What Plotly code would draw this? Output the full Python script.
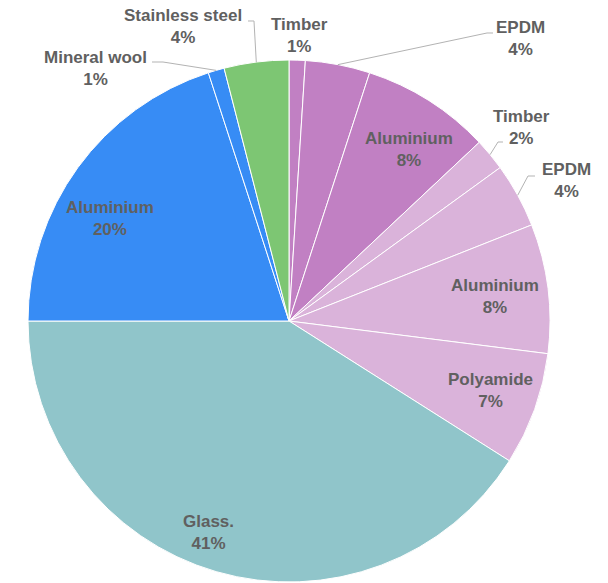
import math
import plotly.graph_objects as go

# Material shares of the window assembly, clockwise from 12 o'clock
materials = ["Timber", "EPDM", "Aluminium", "Timber", "EPDM", "Aluminium",
             "Polyamide", "Glass.", "Aluminium", "Mineral wool", "Stainless steel"]
shares = [1, 4, 8, 2, 4, 8, 7, 41, 20, 1, 4]
colors = ["#C180C3", "#C180C3", "#C180C3",
          "#DAB3DA", "#DAB3DA", "#DAB3DA", "#DAB3DA",
          "#90C5CA", "#378CF5", "#378CF5", "#7DC673"]

W, H = 608, 583
CX, CY, R = 289, 321, 261          # pie centre / radius in pixels
TEXT_COLOR = "#606060"
LINE_COLOR = "#b3b3b3"
FONT = dict(family="Liberation Sans, Arial, sans-serif", size=17,
            color=TEXT_COLOR, weight="bold")


def px(x, y):
    """pixel -> paper coordinates"""
    return x / W, 1 - y / H


total = sum(shares)
mid_angles = []
acc = 0
for v in shares:
    mid_angles.append(360 * (acc + v / 2) / total)
    acc += v


def polar(theta_deg, rho):
    t = math.radians(theta_deg)
    return CX + rho * math.sin(t), CY - rho * math.cos(t)


# inside labels: slice index -> (radius factor, angle tweak in degrees)
inside = {2: (0.803, 2.5), 5: (0.795, 0.5), 6: (0.818, -0.9),
          7: (0.868, 4.5), 8: (0.789, -6.3)}

# outside labels: slice index -> (label centre px, elbow px, line end px)
outside = {
    0: ((299, 35), None, None),
    1: ((520, 39), (487, 33), (493, 33)),
    3: ((521, 127), (498, 142), (503, 142)),
    4: ((566, 180), (528, 176), (535, 176)),
    9: ((95, 68), (163, 62), (152, 62)),
    10: ((183, 26), (254, 21), (248, 21)),
}

fig = go.Figure(go.Pie(
    labels=[f"{m} ({i})" for i, m in enumerate(materials)],
    values=shares,
    sort=False,
    direction="clockwise",
    rotation=0,
    textinfo="none",
    hovertext=materials,
    hoverinfo="text+percent",
    marker=dict(colors=colors, line=dict(color="white", width=1)),
    domain=dict(x=[(CX - R) / W, (CX + R) / W],
                y=[1 - (CY + R) / H, 1 - (CY - R) / H]),
    showlegend=False,
))

annotations = []
shapes = []
for i, (name, v) in enumerate(zip(materials, shares)):
    text = f"{name}<br>{round(100 * v / total)}%"
    if i in inside:
        f, dth = inside[i]
        lx, ly = polar(mid_angles[i] + dth, f * R)
    else:
        (lx, ly), elbow, end = outside[i]
        if elbow is not None:
            ax, ay = polar(mid_angles[i], R)
            pts = [px(ax, ay), px(*elbow), px(*end)]
            path = "M " + " L ".join(f"{x:.5f},{y:.5f}" for x, y in pts)
            shapes.append(dict(type="path", path=path, xref="paper", yref="paper",
                               line=dict(color=LINE_COLOR, width=1)))
    x, y = px(lx, ly)
    annotations.append(dict(x=x, y=y, xref="paper", yref="paper", text=text,
                            showarrow=False, xanchor="center", yanchor="middle",
                            align="center", font=FONT))

fig.update_layout(
    width=W, height=H,
    margin=dict(l=0, r=0, t=0, b=0),
    paper_bgcolor="white",
    plot_bgcolor="white",
    annotations=annotations,
    shapes=shapes,
)

fig.write_html("out.html")
